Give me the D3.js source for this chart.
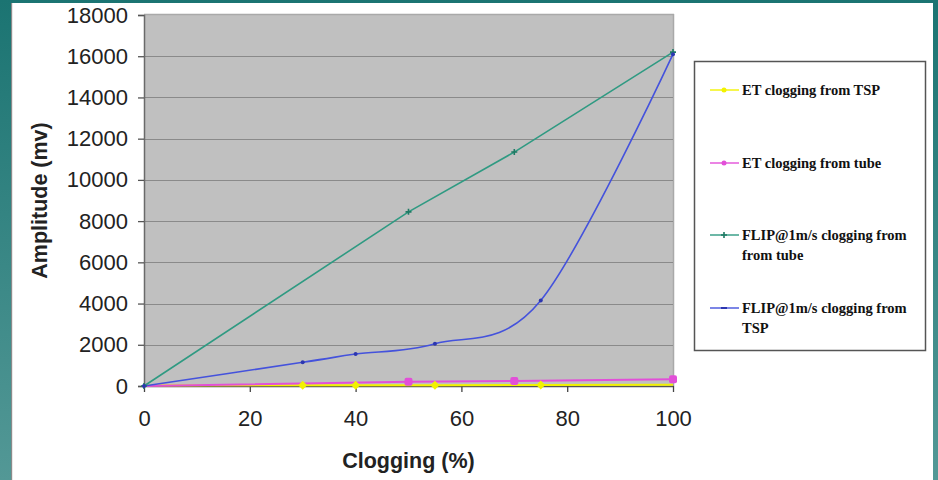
<!DOCTYPE html>
<html>
<head>
<meta charset="utf-8">
<script src="https://cdn.jsdelivr.net/npm/d3@7"></script>
<style>
  html, body { margin: 0; padding: 0; background: #fff; }
  svg { display: block; }
</style>
</head>
<body>
<svg id="chart" width="938" height="480"></svg>
<script>
// Clogging levels (%) measured for each series
const etTspX = [0, 30, 40, 55, 75, 100];
const etTspY = [20, 40, 40, 40, 50, 60];

const etTubeX = [0, 50, 70, 100];
const etTubeY = [0, 210, 240, 330];

const flipTubeX = [0, 50, 70, 100];
const flipTubeY = [0, 8450, 11350, 16200];

const flipTspX = [0, 30, 40, 55, 75, 100];
const flipTspY = [0, 1150, 1550, 2050, 4150, 16100];

const xTicks = [0, 20, 40, 60, 80, 100];
const yTicks = [0, 2000, 4000, 6000, 8000, 10000, 12000, 14000, 16000, 18000];

const legendLabels = [
  ["ET clogging from TSP"],
  ["ET clogging from tube"],
  ["FLIP@1m/s clogging from", "from tube"],
  ["FLIP@1m/s clogging from", "TSP"]
];

const svg = d3.select("#chart");

// slide-style backdrop: teal frame around a white panel
const defs = svg.append("defs");
const grad = defs.append("linearGradient").attr("id", "teal").attr("x1", 0).attr("y1", 0).attr("x2", 0).attr("y2", 1);
grad.append("stop").attr("offset", "0%").attr("stop-color", "#1b7472");
grad.append("stop").attr("offset", "100%").attr("stop-color", "#539896");
svg.append("rect").attr("width", 938).attr("height", 480).attr("fill", "url(#teal)");
svg.append("rect").attr("x", 11).attr("y", 3).attr("width", 922).attr("height", 477).attr("fill", "#ffffff");
svg.append("rect").attr("x", 11).attr("y", 3).attr("width", 1.2).attr("height", 477).attr("fill", "#8a8a8a");

const plot = { left: 144, right: 673, top: 15, bottom: 386 };

const x = d3.scaleLinear().domain([0, 100]).range([plot.left, plot.right]);
const y = d3.scaleLinear().domain([0, 18000]).range([plot.bottom, plot.top]);

// plot area
svg.append("rect")
  .attr("x", plot.left).attr("y", plot.top)
  .attr("width", plot.right - plot.left).attr("height", plot.bottom - plot.top)
  .attr("fill", "#c0c0c0");
svg.append("line").attr("x1", plot.left).attr("x2", plot.right + 1).attr("y1", plot.top - 0.5).attr("y2", plot.top - 0.5)
  .attr("stroke", "#a9a9a9").attr("stroke-width", 1.5);
svg.append("line").attr("x1", plot.right + 0.5).attr("x2", plot.right + 0.5).attr("y1", plot.top - 1).attr("y2", plot.bottom)
  .attr("stroke", "#a9a9a9").attr("stroke-width", 1.5);

// horizontal gridlines
svg.append("g").selectAll("line").data(yTicks.filter(d => d > 0 && d < 18000)).join("line")
  .attr("x1", plot.left).attr("x2", plot.right)
  .attr("y1", d => Math.round(y(d)) + 0.5).attr("y2", d => Math.round(y(d)) + 0.5)
  .attr("stroke", "#8a8a8a").attr("stroke-width", 1);

// axes
const yAxis = d3.axisLeft(y).tickValues(yTicks).tickSize(6).tickPadding(10).tickFormat(d3.format("d"));
const gy = svg.append("g").attr("transform", `translate(${plot.left},0)`).call(yAxis);
gy.select(".domain").attr("stroke", "#6a6a6a").attr("stroke-width", 1.5);
gy.selectAll(".tick line").attr("stroke", "#555").attr("stroke-width", 1.3);
gy.selectAll(".tick text")
  .attr("font-family", "Liberation Sans, Arial, sans-serif").attr("font-size", 22).attr("fill", "#222");

const xAxis = d3.axisBottom(x).tickValues(xTicks).tickSize(6).tickPadding(18).tickSizeOuter(0);
const gx = svg.append("g").attr("transform", `translate(0,${plot.bottom})`).call(xAxis);
gx.select(".domain").attr("stroke", "#555").attr("stroke-width", 1.5);
gx.selectAll(".tick line").attr("stroke", "#444").attr("stroke-width", 1.3);
gx.selectAll(".tick text")
  .attr("font-family", "Liberation Sans, Arial, sans-serif").attr("font-size", 22).attr("fill", "#222");

// axis titles
svg.append("text")
  .attr("transform", `translate(47,${(plot.top + plot.bottom) / 2}) rotate(-90)`)
  .attr("text-anchor", "middle")
  .attr("font-family", "Liberation Sans, Arial, sans-serif").attr("font-weight", "bold").attr("font-size", 21.5)
  .attr("fill", "#222").text("Amplitude (mv)");
svg.append("text")
  .attr("x", (plot.left + plot.right) / 2).attr("y", 468)
  .attr("text-anchor", "middle")
  .attr("font-family", "Liberation Sans, Arial, sans-serif").attr("font-weight", "bold").attr("font-size", 21.5)
  .attr("fill", "#222").text("Clogging (%)");

// series
const series = [
  { xs: etTspX, ys: etTspY, color: "#f2f200", marker: "diamond", curve: d3.curveLinear, width: 2 },
  { xs: etTubeX, ys: etTubeY, color: "#e24fd8", marker: "square", curve: d3.curveLinear, width: 2 },
  { xs: flipTubeX, ys: flipTubeY, color: "#2f9a82", marker: "plus", curve: d3.curveLinear, width: 1.6 },
  { xs: flipTspX, ys: flipTspY, color: "#4452dc", marker: "dot", curve: d3.curveCardinal.tension(0), width: 1.6 }
];

const gLines = svg.append("g");
series.forEach(s => {
  const pts = s.xs.map((v, i) => [v, s.ys[i]]);
  gLines.append("path")
    .attr("d", d3.line().x(d => x(d[0])).y(d => y(d[1])).curve(s.curve)(pts))
    .attr("fill", "none").attr("stroke", s.color).attr("stroke-width", s.width);
});

function drawMarker(g, kind, cx, cy, color) {
  if (kind === "diamond") {
    g.append("path").attr("d", `M${cx},${cy - 4.5}L${cx + 4.5},${cy}L${cx},${cy + 4.5}L${cx - 4.5},${cy}Z`).attr("fill", color);
  } else if (kind === "square") {
    g.append("rect").attr("x", cx - 4).attr("y", cy - 4).attr("width", 8).attr("height", 8).attr("rx", 2).attr("fill", color);
  } else if (kind === "plus") {
    g.append("path").attr("d", `M${cx - 3},${cy}H${cx + 3}M${cx},${cy - 3}V${cy + 3}`).attr("stroke", color).attr("stroke-width", 1.6);
  } else if (kind === "dash") {
    g.append("path").attr("d", `M${cx - 3},${cy}H${cx + 3}`).attr("stroke", "#2c36b0").attr("stroke-width", 2);
  } else {
    g.append("circle").attr("cx", cx).attr("cy", cy).attr("r", 2).attr("fill", "#2c36b0");
  }
}

const gMarks = svg.append("g");
series.forEach(s => {
  s.xs.forEach((v, i) => {
    if (s.marker === "diamond" && (v === 0 || v === 100)) return;
    if (s.marker === "square" && v === 0) return;
    const color = s.marker === "plus" ? "#1f7a64" : s.color;
    drawMarker(gMarks, s.marker, x(v), y(s.ys[i]), color);
  });
});

// legend
const lg = svg.append("g");
lg.append("rect").attr("x", 694.5).attr("y", 61.5).attr("width", 231).attr("height", 289)
  .attr("fill", "#fff").attr("stroke", "#555").attr("stroke-width", 1.5);
const legendY = [90, 163, 235, 308];
series.forEach((s, i) => {
  const ly = legendY[i];
  lg.append("line").attr("x1", 710).attr("x2", 739).attr("y1", ly).attr("y2", ly)
    .attr("stroke", s.color).attr("stroke-width", 1.4);
  const kind = s.marker === "dot" ? "dash" : s.marker;
  const color = s.marker === "plus" ? "#1f7a64" : s.color;
  if (kind === "diamond" || kind === "square") {
    lg.append("circle").attr("cx", 724).attr("cy", ly).attr("r", 2.5).attr("fill", color);
  } else {
    drawMarker(lg, kind, 724, ly, color);
  }
  const t = lg.append("text")
    .attr("x", 742).attr("y", ly + 4.5)
    .attr("font-family", "Liberation Serif, Times New Roman, serif").attr("font-weight", "bold").attr("font-size", 14.5)
    .attr("fill", "#111");
  legendLabels[i].forEach((line, j) => {
    t.append("tspan").attr("x", 742).attr("dy", j === 0 ? 0 : 20).text(line);
  });
});
</script>
</body>
</html>
